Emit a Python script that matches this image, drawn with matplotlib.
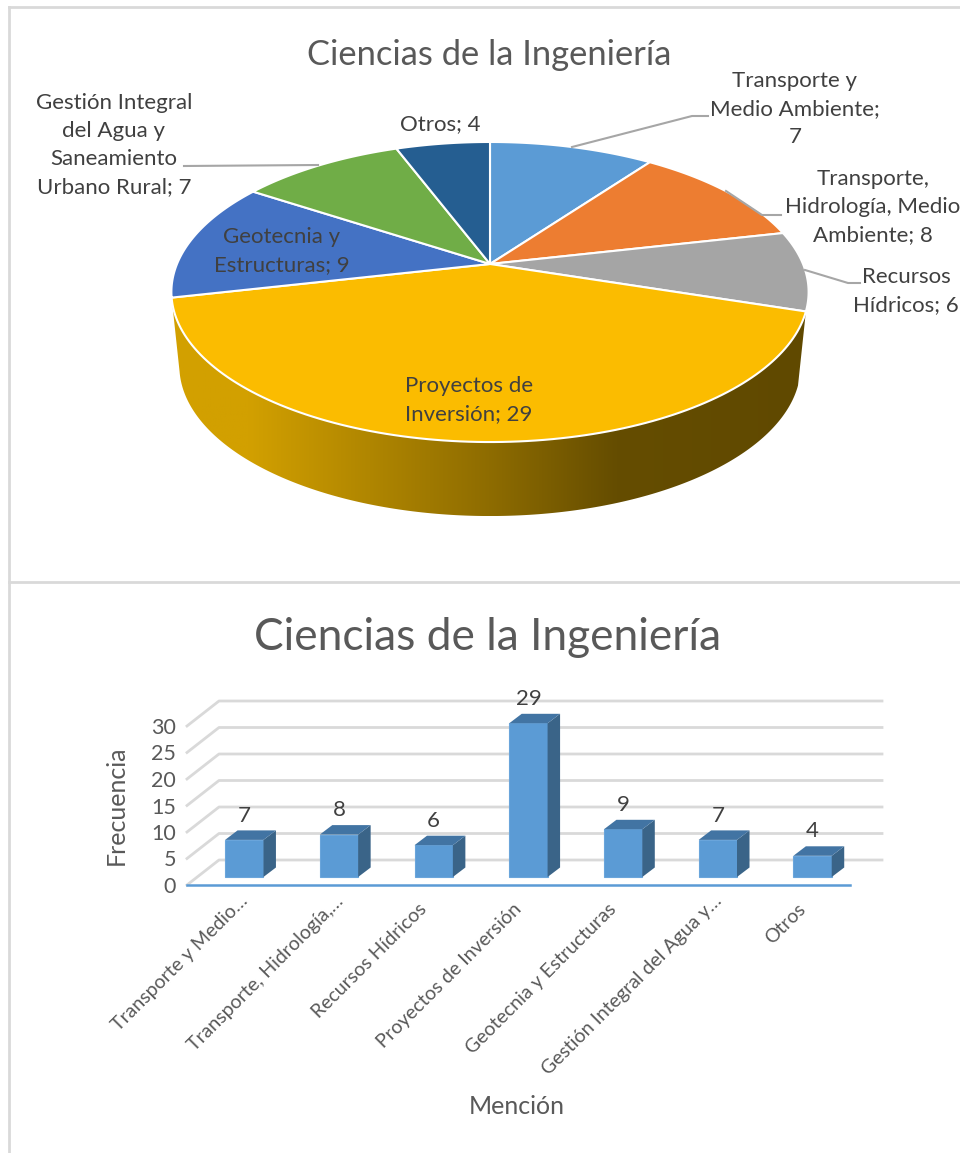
import matplotlib
matplotlib.use("Agg")
import matplotlib.pyplot as plt
import numpy as np
from matplotlib.colors import LinearSegmentedColormap
from matplotlib.patches import Polygon
from matplotlib.transforms import ScaledTranslation

plt.rcParams['font.family'] = ['Lato', 'DejaVu Sans']

W, H = 960, 1153

chart_title = "Ciencias de la Ingeniería"
categories = ["Transporte y Medio Ambiente", "Transporte, Hidrología, Medio Ambiente", "Recursos Hídricos",
              "Proyectos de Inversión", "Geotecnia y Estructuras",
              "Gestión Integral del Agua y Saneamiento Urbano Rural", "Otros"]
tick_labels = ["Transporte y Medio…", "Transporte, Hidrología,…", "Recursos Hídricos",
               "Proyectos de Inversión", "Geotecnia y Estructuras",
               "Gestión Integral del Agua y…", "Otros"]
values = [7, 8, 6, 29, 9, 7, 4]
pie_colors = ["#5B9BD5", "#ED7D31", "#A5A5A5", "#FBBC00", "#4472C4", "#70AD47", "#255E91"]
y_ticks = [0, 5, 10, 15, 20, 25, 30]

# pie labels, (text, centre x, centre y)
pie_labels = [("Transporte y\nMedio Ambiente;\n7", 795, 109),
              ("Transporte,\nHidrología, Medio\nAmbiente; 8", 873, 207),
              ("Recursos\nHídricos; 6", 906, 291),
              ("Proyectos de\nInversión; 29", 469, 400),
              ("Geotecnia y\nEstructuras; 9", 282, 251),
              ("Gestión Integral\ndel Agua y\nSaneamiento\nUrbano Rural; 7", 114, 145),
              ("Otros; 4", 440, 124)]
leaders = [[(572, 147), (692, 116), (708, 116)],
           [(726, 191), (762, 215), (781, 215)],
           [(805, 270), (848, 283), (860, 283)],
           [(318, 165), (184, 166)]]

# pie geometry in pixels
cx, cy = 490, 264
radius = 313
persp = 0.1867
tilt = 144.8
depth = 74


def project(theta):
    # disc seen in perspective, theta clockwise from the top
    u, v = np.sin(theta), np.cos(theta)
    d = 1 + persp * v
    return cx + radius * u / d, cy - tilt * v / d


fig = plt.figure(figsize=(W / 100, H / 100), dpi=100)
bg = fig.add_axes([0, 0, 1, 1])
bg.set_xlim(0, W)
bg.set_ylim(H, 0)
bg.axis("off")

# frame of the two charts
for xs, ys in [([9, 9], [7, H]), ([9, W], [7, 7]), ([9, W], [582, 582])]:
    bg.plot(xs, ys, color="#D9D9D9", lw=2)

edges = np.concatenate([[0], np.cumsum(values)]) / sum(values) * 2 * np.pi

# side of the pie, only the big front slice can be seen
big = int(np.argmax(values))
t = np.linspace(edges[big], edges[big + 1], 200)
tx, ty = project(t)
bx = cx + (tx - cx) * 0.975
by = ty + depth
side_pts = np.column_stack([np.concatenate([tx, bx[::-1]]), np.concatenate([ty, by[::-1]])])
grad = np.linspace(0, 1, 256).reshape(1, -1)
side_cmap = LinearSegmentedColormap.from_list("side", [(0, "#D2A000"), (0.12, "#D2A000"), (0.5, "#8E6C00"),
                                                       (0.7, "#654D00"), (1, "#604900")])
im = bg.imshow(grad, extent=(tx.min(), tx.max(), by.max(), ty.min()), aspect="auto", cmap=side_cmap, zorder=1)
clip = Polygon(side_pts, closed=True, transform=bg.transData)
im.set_clip_path(clip)
bg.set_xlim(0, W)
bg.set_ylim(H, 0)

# top of the pie
for i in range(len(values)):
    t = np.linspace(edges[i], edges[i + 1], 120)
    px, py = project(t)
    bg.fill(np.r_[cx, px], np.r_[cy, py], color=pie_colors[i], ec="white", lw=1.5, zorder=2)

for pts in leaders:
    xs, ys = zip(*pts)
    bg.plot(xs, ys, color="#A6A6A6", lw=1.5, zorder=3)

for txt, x, y in pie_labels:
    bg.text(x, y, txt, ha="center", va="center", fontsize=16, color="#404040", linespacing=1.5, zorder=4)

bg.text(489, 55, chart_title, ha="center", va="center", fontsize=24.8, color="#595959")
bg.text(488, 637, chart_title, ha="center", va="center", fontsize=31.9, color="#595959")

# column chart, front plane of the box
left, right, base, top = 187, 850, 885, 726
ax = fig.add_axes([left / W, 1 - base / H, (right - left) / W, (base - top) / H])
ax.patch.set_alpha(0)
ax.set_xlim(-0.5, len(values) - 0.5)
ax.set_ylim(0, 30)
x_pos = np.arange(len(values))
px_x = (len(values)) / (right - left)
px_y = 30 / (base - top)

# oblique depth of box and bars, in pixels
box_dx, box_dy = 32 * px_x, 25 * px_y
bar_dx, bar_dy = 12.5 * px_x, 9.5 * px_y
gap_dx, gap_dy = 9.9 * px_x, 8 * px_y

for v in y_ticks:
    ax.plot([-0.5, -0.5 + box_dx, 6.5 + box_dx], [v, v + box_dy, v + box_dy], color="#D9D9D9", lw=2,
            clip_on=False, zorder=1)

bar_w = 0.405
bar_x = x_pos + gap_dx
ax.bar(bar_x, values, bar_w, bottom=gap_dy, color="#5B9BD5", ec="#6AA5DB", lw=0.8, zorder=3, clip_on=False)
for x, v in zip(bar_x, values):
    xr = x + bar_w / 2
    xl = x - bar_w / 2
    yt = v + gap_dy
    ax.add_patch(Polygon([(xr, gap_dy), (xr + bar_dx, gap_dy + bar_dy), (xr + bar_dx, yt + bar_dy), (xr, yt)],
                         fc="#3A6488", ec="none", zorder=3, clip_on=False))
    ax.add_patch(Polygon([(xl, yt), (xr, yt), (xr + bar_dx, yt + bar_dy), (xl + bar_dx, yt + bar_dy)],
                         fc="#4274A3", ec="none", zorder=3, clip_on=False))
    ax.annotate(str(v), (x, yt), xytext=(0, 17.5), textcoords="offset points", ha="center", va="center",
                fontsize=16, color="#404040", zorder=5, annotation_clip=False)

ax.set_yticks(y_ticks)
ax.set_xticks(x_pos)
ax.set_xticklabels(tick_labels, rotation=45, ha="right", rotation_mode="anchor", fontsize=14, color="#595959")
ax.tick_params(axis="x", length=0, pad=8)
ax.tick_params(axis="y", length=0, pad=8, labelsize=15.5, labelcolor="#595959")
for lab in ax.get_xticklabels():
    # the cut labels sit a bit further along than the whole ones
    if lab.get_text().endswith("…"):
        shift = ScaledTranslation(5 / 100, 4 / 100, fig.dpi_scale_trans)
    else:
        shift = ScaledTranslation(-6 / 100, -4 / 100, fig.dpi_scale_trans)
    lab.set_transform(lab.get_transform() + shift)
for s in ["top", "right", "left"]:
    ax.spines[s].set_visible(False)
ax.spines["bottom"].set_color("#5B9BD5")
ax.spines["bottom"].set_linewidth(1.8)

bg.text(116, 805, "Frecuencia", rotation=90, ha="center", va="center", fontsize=18, color="#595959")
bg.text(517, 1107, "Mención", ha="center", va="center", fontsize=18, color="#595959")

fig.savefig("out.png", dpi=100)
